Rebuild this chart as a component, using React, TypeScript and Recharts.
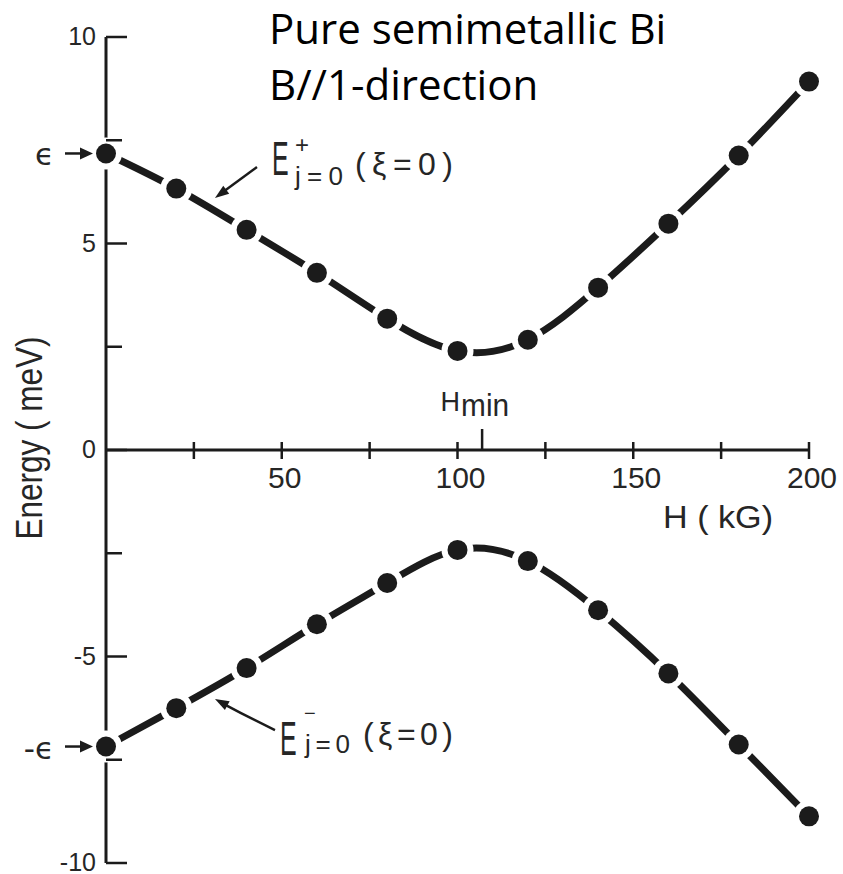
import React from 'react';
import { ComposedChart, Line, XAxis, YAxis, ReferenceLine, ReferenceDot } from 'recharts';

// Landau-level energies of the j=0 band edges versus magnetic field
const fieldKG = [0, 20, 40, 60, 80, 100, 120, 140, 160, 180, 200];
const upperBandMeV = [7.18, 6.33, 5.33, 4.29, 3.18, 2.4, 2.67, 3.93, 5.48, 7.13, 8.92];
const lowerBandMeV = [-7.18, -6.25, -5.28, -4.22, -3.22, -2.42, -2.69, -3.88, -5.41, -7.13, -8.87];

// Axis ticks
const energyTicks = [-10, -7.5, -5, -2.5, 0, 2.5, 5, 7.5, 10];
const energyTickLabels = [-10, -5, 0, 5, 10];
const fieldTicks = [25, 50, 75, 100, 125, 150, 175, 200];
const fieldTickLabels = [50, 100, 150, 200];

// Marked quantities
const H_MIN = 107;
const EPSILON = 7.18;
const upperNoteTip = { h: 31, e: 6.1 };
const lowerNoteTip = { h: 31, e: -6.03 };

const rows = fieldKG.map((h, i) => ({ h, upper: upperBandMeV[i], lower: lowerBandMeV[i] }));

const INK = '#1b1b1b';
const TEXT = '#262626';
const SANS = '"Liberation Sans", Arial, sans-serif';

const arrowHead = (tx: number, ty: number, dx: number, dy: number, len = 14, half = 5) => {
  const l = Math.hypot(dx, dy);
  const ux = dx / l;
  const uy = dy / l;
  const bx = tx - ux * len;
  const by = ty - uy * len;
  return `M${tx},${ty} L${bx - uy * half},${by + ux * half} L${bx + uy * half},${by - ux * half} Z`;
};

const EnergyTick = (props: any) => {
  const { x, y, payload } = props;
  const v = payload.value;
  const major = energyTickLabels.includes(v);
  return (
    <g>
      <line x1={x} y1={y} x2={x + (major ? 21 : 16)} y2={y} stroke={INK} strokeWidth={2.5} />
      {major && (
        <text x={x - 10} y={y + 8} textAnchor="end" fontSize={25} fontFamily={SANS} fill={TEXT}>
          {v}
        </text>
      )}
    </g>
  );
};

const EnergyTitle = (props: any) => {
  const vb = props.viewBox || { x: 0, y: 0, width: 0, height: 0 };
  const x = vb.x + 42;
  const y = vb.y + vb.height / 2 - 12;
  return (
    <text
      x={x}
      y={y}
      transform={`rotate(-90 ${x} ${y})`}
      textAnchor="middle"
      fontSize={37}
      fontFamily={SANS}
      fill={TEXT}
      textLength={203}
      lengthAdjust="spacingAndGlyphs"
    >
      Energy ( meV)
    </text>
  );
};

const FieldAxisTitle = (props: any) => {
  const vb = props.viewBox || { x: 0, y: 0, width: 0, height: 0 };
  const x = vb.x + vb.width - 91;
  const y = vb.y + 78;
  return (
    <text x={x} y={y} textAnchor="middle" fontSize={32} fontFamily={SANS} fill={TEXT} textLength={110} lengthAdjust="spacingAndGlyphs">
      H ( kG)
    </text>
  );
};

const FieldTick = ({ cx, cy, value }: any) => {
  const labelled = fieldTickLabels.includes(value);
  return (
    <g>
      <line x1={cx} y1={cy - 8} x2={cx} y2={cy + 9} stroke={INK} strokeWidth={2.5} />
      {labelled && (
        <text x={cx + 3} y={cy + 38} textAnchor="middle" fontSize={30} fontFamily={SANS} fill={TEXT}>
          {value}
        </text>
      )}
    </g>
  );
};

const HminMark = ({ cx, cy }: any) => (
  <g>
    <line x1={cx} y1={cy} x2={cx} y2={cy - 21} stroke={INK} strokeWidth={2.5} />
    <text x={cx - 22} y={cy - 39} textAnchor="end" fontSize={27} fontFamily={SANS} fill={TEXT}>
      H
    </text>
    <text x={cx - 21} y={cy - 34} fontSize={31} fontFamily={SANS} fill={TEXT} textLength={48} lengthAdjust="spacingAndGlyphs">
      min
    </text>
  </g>
);

const EpsilonMark = ({ cx, cy, label }: any) => (
  <g>
    <text x={cx - 52} y={cy + 12} textAnchor="end" fontSize={31} fontFamily="'DejaVu Sans', sans-serif" fill={TEXT}>
      {label}
    </text>
    <line x1={cx - 41} y1={cy} x2={cx - 22} y2={cy} stroke={INK} strokeWidth={2.5} />
    <path d={arrowHead(cx - 13, cy, 1, 0, 13, 6)} fill={INK} />
  </g>
);

const UpperNote = ({ cx, cy }: any) => {
  const ex = cx + 57;
  const ey = cy - 23;
  return (
    <g fill={TEXT} fontFamily={SANS}>
      <line x1={cx + 42} y1={cy - 31} x2={cx + 8} y2={cy - 6} stroke={INK} strokeWidth={2.5} />
      <path d={arrowHead(cx, cy, -42, 31)} fill={INK} />
      <text transform={`translate(${ex},${ey}) scale(0.52,1)`} fontSize={48}>E</text>
      <text x={ex + 30} y={ey - 22} textAnchor="middle" fontSize={24}>+</text>
      <text x={ex + 23} y={ey + 10} fontSize={26} textLength={48} lengthAdjust="spacing">j=0</text>
      <text x={ex + 83} y={ey} fontSize={32} textLength={98} lengthAdjust="spacing">(ξ=0)</text>
    </g>
  );
};

const LowerNote = ({ cx, cy }: any) => {
  const ex = cx + 65;
  const ey = cy + 56;
  return (
    <g fill={TEXT} fontFamily={SANS}>
      <path
        d={`M${cx + 60},${cy + 31} Q${cx + 37},${cy + 20} ${cx + 9},${cy + 5}`}
        fill="none"
        stroke={INK}
        strokeWidth={2.5}
      />
      <path d={arrowHead(cx, cy, -37, -20)} fill={INK} />
      <text transform={`translate(${ex},${ey}) scale(0.52,1)`} fontSize={48}>E</text>
      <text x={ex + 30} y={ey - 35} textAnchor="middle" fontSize={20}>−</text>
      <text x={ex + 25} y={ey - 2} fontSize={26} textLength={45} lengthAdjust="spacing">j=0</text>
      <text x={ex + 83} y={ey - 10} fontSize={32} textLength={90} lengthAdjust="spacing">(ξ=0)</text>
    </g>
  );
};

const HaloDot = (props: any) => {
  const { cx, cy, index, dataKey } = props;
  if (cx == null || cy == null) return <g key={`${dataKey}-${index}`} />;
  return (
    <g key={`${dataKey}-${index}`}>
      <circle cx={cx} cy={cy} r={16} fill="#ffffff" />
      <circle cx={cx} cy={cy} r={10} fill={INK} />
    </g>
  );
};

export default function App() {
  return (
    <div style={{ position: 'absolute', left: 0, top: 0, width: 843, height: 874, background: '#ffffff' }}>
      <ComposedChart
        width={843}
        height={874}
        data={rows}
        margin={{ top: 37, right: 34, bottom: 11, left: 0 }}
      >
        <XAxis type="number" dataKey="h" domain={[0, 200]} hide />
        <YAxis
          type="number"
          domain={[-10, 10]}
          ticks={energyTicks}
          interval={0}
          width={106}
          tickSize={0}
          tickMargin={0}
          tickLine={false}
          axisLine={{ stroke: INK, strokeWidth: 3 }}
          tick={<EnergyTick />}
          label={(p: any) => <EnergyTitle {...p} />}
        />
        <ReferenceLine
          y={0}
          stroke={INK}
          strokeWidth={3}
          label={(p: any) => <FieldAxisTitle {...p} />}
        />
        {fieldTicks.map((t) => (
          <ReferenceDot
            key={`ft-${t}`}
            x={t}
            y={0}
            r={1}
            ifOverflow="visible"
            shape={(p: any) => <FieldTick cx={p.cx} cy={p.cy} value={t} />}
          />
        ))}
        <ReferenceDot x={H_MIN} y={0} r={1} ifOverflow="visible" shape={(p: any) => <HminMark cx={p.cx} cy={p.cy} />} />
        <Line
          type="natural"
          dataKey="upper"
          stroke={INK}
          strokeWidth={7}
          dot={HaloDot}
          activeDot={false}
          isAnimationActive={false}
        />
        <Line
          type="natural"
          dataKey="lower"
          stroke={INK}
          strokeWidth={7}
          dot={HaloDot}
          activeDot={false}
          isAnimationActive={false}
        />
        <ReferenceDot
          x={0}
          y={EPSILON}
          r={1}
          ifOverflow="visible"
          shape={(p: any) => <EpsilonMark cx={p.cx} cy={p.cy} label="ϵ" />}
        />
        <ReferenceDot
          x={0}
          y={-EPSILON}
          r={1}
          ifOverflow="visible"
          shape={(p: any) => <EpsilonMark cx={p.cx} cy={p.cy} label="-ϵ" />}
        />
        <ReferenceDot
          x={upperNoteTip.h}
          y={upperNoteTip.e}
          r={1}
          ifOverflow="visible"
          shape={(p: any) => <UpperNote cx={p.cx} cy={p.cy} />}
        />
        <ReferenceDot
          x={lowerNoteTip.h}
          y={lowerNoteTip.e}
          r={1}
          ifOverflow="visible"
          shape={(p: any) => <LowerNote cx={p.cx} cy={p.cy} />}
        />
      </ComposedChart>
      <div
        style={{
          position: 'absolute',
          left: 269,
          top: 0,
          fontFamily: '"Open Sans", sans-serif',
          fontSize: 42,
          lineHeight: '56px',
          color: '#000000',
          whiteSpace: 'nowrap',
        }}
      >
        <div>Pure semimetallic Bi</div>
        <div>B//1-direction</div>
      </div>
    </div>
  );
}
